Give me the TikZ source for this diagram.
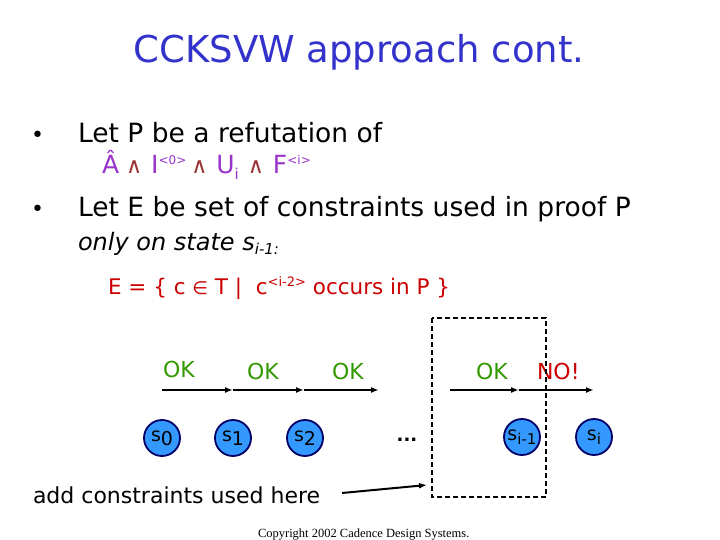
\documentclass[tikz,border=0pt]{standalone}
\usepackage{fontspec}
\setmainfont{DejaVu Sans}
\newfontfamily\copyfont{Liberation Serif}
\usetikzlibrary{arrows.meta}
\definecolor{titleblue}{HTML}{3333CC}
\definecolor{purp}{HTML}{9933CC}
\definecolor{andred}{HTML}{993333}
\definecolor{eqred}{HTML}{CC0000}
\definecolor{okgreen}{HTML}{339900}
\definecolor{statefill}{HTML}{3399FF}
\definecolor{stateline}{HTML}{000066}
\tikzset{
  txt/.style={anchor=base west, inner sep=0pt, outer sep=0pt},
  bodyfont/.style={font=\fontsize{26.5}{26.5}\selectfont},
  statenode/.style={circle, draw=stateline, fill=statefill, line width=1.8pt, minimum size=36pt, inner sep=0pt, font=\fontsize{19}{19}\selectfont},
  oklabel/.style={txt, text=okgreen, font=\fontsize{22}{22}\selectfont},
  trans/.style={line width=2pt, -{Latex[length=8pt,width=6pt]}},
  dashbox/.style={line width=2pt, dash pattern=on 5pt off 3pt}
}
\begin{document}
\begin{tikzpicture}[x=1pt,y=-1pt]
\useasboundingbox[fill=white] (0,0) rectangle (720,540);
% title
\node[anchor=base, inner sep=0pt, text=titleblue, font=\fontsize{37}{37}\selectfont] (title) at (359,63) {CCKSVW approach cont.};
% bullets
\node[txt, font=\fontsize{22}{22}\selectfont] (b1) at (31,143) {•};
\node[txt, bodyfont] (l1) at (78,143) {Let P be a refutation of};
\node[txt, font=\fontsize{25}{25}\selectfont, text=purp] (f1) at (102,174) {Â\hspace{7pt}{\color{andred}\fontsize{22}{22}\selectfont∧}\hspace{9pt}I\raisebox{9pt}{\fontsize{12}{12}\selectfont<0>}\hspace{5pt}{\color{andred}\fontsize{22}{22}\selectfont∧}\hspace{9pt}U\raisebox{-6pt}{\fontsize{15}{15}\selectfont i}\hspace{9pt}{\color{andred}\fontsize{22}{22}\selectfont∧}\hspace{9pt}F\raisebox{9pt}{\fontsize{12}{12}\selectfont<i>}};
\node[txt, font=\fontsize{22}{22}\selectfont] (b2) at (31,217) {•};
\node[txt, bodyfont] (l2) at (78,217) {Let E be set of constraints used in proof P};
\node[txt, font=\fontsize{24}{24}\itshape\selectfont] (l3) at (78,250) {only on state s\raisebox{-5pt}{\fontsize{15}{15}\selectfont i-1:}};
\node[txt, text=eqred, font=\fontsize{21.5}{21.5}\selectfont] (eq) at (108,294) {E = \{ c {\fontsize{18}{18}\selectfont∈} T \textbar\ \ c\raisebox{8pt}{\fontsize{13}{13}\selectfont<i-2>} occurs in P \}};
% OK labels
\node[oklabel] (ok1) at (163,377) {OK};
\node[oklabel] (ok2) at (247,379) {OK};
\node[oklabel] (ok3) at (332,379) {OK};
\node[oklabel] (ok4) at (476,379) {OK};
\node[txt, text=eqred, font=\fontsize{22}{22}\selectfont] (no) at (537,379) {NO!};
% transitions
\coordinate (t0) at (162,390);
\coordinate (t1) at (233,390);
\coordinate (t2) at (304,390);
\coordinate (t3) at (379,390);
\coordinate (u0) at (450,390);
\coordinate (u1) at (519,390);
\coordinate (u2) at (594,390);
\draw[trans] (t0) -- (t1);
\draw[trans] (t1) -- (t2);
\draw[trans] (t2) -- (t3);
\draw[trans] (u0) -- (u1);
\draw[trans] (u1) -- (u2);
% states
\node[statenode] (s0) at (162,438) {s\raisebox{-4pt}{0}};
\node[statenode] (s1) at (233,438) {s\raisebox{-4pt}{1}};
\node[statenode] (s2) at (305,438) {s\raisebox{-4pt}{2}};
\node[anchor=center, inner sep=0pt, font=\bfseries\fontsize{18}{18}\selectfont] (dots) at (407,440) {...};
\node[statenode] (si1) at (522,437) {s\raisebox{-4pt}{\fontsize{15}{15}\selectfont i-1}};
\node[statenode] (si) at (594,437) {s\raisebox{-4pt}{\fontsize{15}{15}\selectfont i}};
% dashed box
\coordinate (bx1) at (432,318);
\coordinate (bx2) at (546,497);
\draw[dashbox] (bx1) rectangle (bx2);
% bottom text
\node[txt, font=\fontsize{22}{22}\selectfont] (add) at (33,503) {add constraints used here};
\coordinate (ar1) at (342,493);
\coordinate (ar2) at (427,485);
\draw[trans] (ar1) -- (ar2);
\node[txt, font=\copyfont\fontsize{12.5}{12.5}\selectfont] (copy) at (258,537) {Copyright 2002 Cadence Design Systems.};
\end{tikzpicture}
\end{document}
